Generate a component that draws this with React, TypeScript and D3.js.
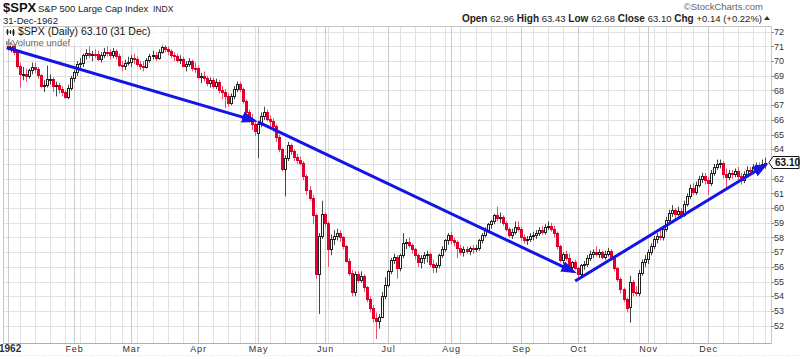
import { useEffect, useRef } from 'react';
import * as d3 from 'd3';

// open, high, low, close
type Bar = [number, number, number, number];

const jan: Bar[] = [
  [71.2, 71.4, 70.7, 70.96], [70.96, 71.4, 70.6, 71.13], [71.13, 71.2, 70.4, 70.64], [70.64, 70.8, 69.5, 69.66],
  [69.66, 69.9, 68.2, 69.12], [69.12, 69.6, 68.7, 69.15], [69.15, 69.5, 68.6, 68.96], [68.96, 69.5, 68.8, 69.37],
  [69.37, 69.9, 69.1, 69.61], [69.61, 69.9, 69.2, 69.47], [69.47, 69.6, 68.8, 69.07], [69.07, 69.1, 68.2, 68.32],
  [68.32, 68.7, 67.9, 68.39], [68.39, 69.7, 68.2, 68.75], [68.75, 69.1, 68.4, 68.81], [68.81, 68.9, 67.9, 68.29],
  [68.29, 68.6, 67.6, 68.35], [68.35, 68.5, 67.8, 68.13], [68.13, 68.3, 67.6, 67.9], [67.9, 68.0, 67.4, 67.55],
  [67.55, 68.4, 67.4, 68.17], [68.17, 69.0, 68.0, 68.84],
];
const feb: Bar[] = [
  [68.84, 69.4, 68.6, 69.26], [69.26, 70.0, 69.0, 69.81], [69.81, 70.2, 69.5, 69.88], [69.88, 70.5, 69.6, 70.42],
  [70.42, 70.8, 70.1, 70.58], [70.58, 71.0, 70.2, 70.42], [70.42, 70.7, 70.0, 70.48], [70.48, 70.8, 70.2, 70.46],
  [70.46, 70.7, 70.0, 70.14], [70.14, 70.6, 69.9, 70.42], [70.42, 70.9, 70.2, 70.64], [70.64, 71.0, 70.3, 70.59],
  [70.59, 70.8, 70.1, 70.41], [70.41, 70.9, 70.2, 70.66], [70.66, 70.8, 70.1, 70.34], [70.34, 70.5, 69.6, 69.76],
  [69.76, 70.0, 69.3, 69.64], [69.64, 70.1, 69.4, 69.89], [69.89, 70.3, 69.7, 69.96],
];
const mar: Bar[] = [
  [69.96, 70.4, 69.6, 70.2], [70.2, 70.5, 69.8, 70.16], [70.16, 70.3, 69.6, 69.78], [69.78, 70.0, 69.4, 69.69],
  [69.69, 70.0, 69.3, 69.6], [69.6, 70.2, 69.5, 70.07], [70.07, 70.5, 69.9, 70.38], [70.38, 70.7, 70.1, 70.4],
  [70.4, 70.6, 70.0, 70.21], [70.21, 70.8, 70.1, 70.6], [70.6, 71.2, 70.5, 70.94], [70.94, 71.1, 70.6, 70.85],
  [70.85, 71.0, 70.4, 70.66], [70.66, 70.8, 70.2, 70.41], [70.41, 70.6, 70.0, 70.32], [70.32, 70.5, 69.9, 70.1],
  [70.1, 70.4, 69.8, 70.12], [70.12, 70.3, 69.6, 69.7], [69.7, 70.0, 69.3, 69.82], [69.82, 70.2, 69.6, 70.01],
  [70.01, 70.1, 69.3, 69.56], [69.56, 69.9, 69.2, 69.55],
];
const apr: Bar[] = [
  [69.55, 69.7, 68.8, 68.91], [68.91, 69.2, 68.5, 69.02], [69.02, 69.3, 68.6, 68.84], [68.84, 69.0, 68.3, 68.49],
  [68.49, 68.9, 68.2, 68.72], [68.72, 68.9, 68.1, 68.31], [68.31, 68.8, 68.1, 68.56], [68.56, 68.7, 67.8, 68.04],
  [68.04, 68.3, 67.4, 67.9], [67.9, 68.1, 66.8, 67.62], [67.62, 67.8, 66.9, 67.18], [67.18, 67.8, 67.0, 67.6],
  [67.6, 68.3, 67.4, 68.1], [68.1, 68.6, 67.9, 68.45], [68.45, 68.6, 67.9, 68.1], [68.1, 68.2, 67.1, 67.31],
  [67.31, 67.4, 66.4, 66.55], [66.55, 66.7, 65.8, 66.02], [66.02, 66.4, 65.3, 65.7], [65.7, 66.0, 64.9, 65.24],
];
const may: Bar[] = [
  [65.1, 65.9, 63.4, 65.7], [65.7, 66.5, 65.5, 66.24], [66.24, 66.9, 66.0, 66.53], [66.53, 66.7, 65.9, 66.06],
  [66.06, 66.3, 65.5, 65.9], [65.9, 66.1, 65.2, 65.6], [65.6, 65.7, 64.5, 64.85], [64.85, 65.0, 63.8, 64.0],
  [64.0, 64.1, 62.5, 62.65], [62.65, 63.6, 60.8, 63.4], [63.4, 64.5, 63.2, 64.3], [64.3, 64.4, 63.6, 63.9],
  [63.9, 64.0, 63.2, 63.5], [63.5, 63.7, 63.0, 63.3], [63.3, 63.5, 62.9, 63.1], [63.1, 63.2, 61.9, 62.2],
  [62.2, 62.3, 60.9, 61.2], [61.2, 61.5, 60.5, 60.7], [60.7, 60.9, 58.9, 59.5], [59.5, 59.6, 55.2, 55.5],
  [55.5, 58.3, 52.8, 58.1], [58.1, 60.5, 57.9, 59.6],
];
const jun: Bar[] = [
  [59.6, 59.7, 58.7, 59.0], [59.0, 59.1, 56.0, 57.2], [57.2, 58.2, 56.8, 57.9], [57.9, 58.5, 57.5, 58.1],
  [58.1, 58.6, 57.8, 58.3], [58.3, 58.5, 57.7, 58.0], [58.0, 58.1, 57.2, 57.4], [57.4, 57.5, 56.3, 56.4],
  [56.4, 56.6, 55.4, 55.6], [55.6, 55.8, 54.0, 54.3], [54.3, 55.7, 54.0, 55.5], [55.5, 55.7, 54.9, 55.1],
  [55.1, 55.7, 54.9, 55.4], [55.4, 55.5, 54.3, 54.6], [54.6, 54.7, 53.6, 53.8], [53.8, 54.0, 52.9, 53.2],
  [53.2, 53.4, 52.2, 52.5], [52.5, 52.9, 51.1, 52.3], [52.3, 52.8, 51.8, 52.6], [52.6, 54.3, 52.5, 54.0],
  [54.0, 55.3, 53.8, 54.75],
];
const jul: Bar[] = [
  [54.75, 55.8, 54.6, 55.7], [55.7, 56.6, 55.5, 56.5], [56.5, 56.9, 56.2, 56.7], [56.7, 56.8, 55.2, 55.9],
  [55.9, 56.9, 55.7, 56.8], [56.8, 58.3, 56.6, 57.6], [57.6, 57.9, 57.2, 57.7], [57.7, 58.0, 57.3, 57.5],
  [57.5, 57.6, 56.9, 57.2], [57.2, 57.3, 56.5, 56.8], [56.8, 56.9, 56.0, 56.3], [56.3, 56.8, 55.9, 56.6],
  [56.6, 57.0, 56.2, 56.8], [56.8, 57.1, 56.3, 56.9], [56.9, 57.0, 56.0, 56.2], [56.2, 56.5, 55.6, 56.0],
  [56.0, 56.3, 55.6, 56.1], [56.1, 56.9, 55.9, 56.8], [56.8, 57.4, 56.6, 57.2], [57.2, 57.9, 57.0, 57.8],
  [57.8, 58.3, 57.5, 58.2],
];
const aug: Bar[] = [
  [58.2, 58.4, 57.5, 57.8], [57.8, 58.0, 57.4, 57.7], [57.7, 57.8, 56.6, 57.3], [57.3, 57.5, 56.8, 57.0],
  [57.0, 57.4, 56.7, 57.2], [57.2, 57.4, 56.9, 57.1], [57.1, 57.4, 56.8, 57.3], [57.3, 57.5, 56.9, 57.2],
  [57.2, 57.5, 57.0, 57.3], [57.3, 57.9, 57.1, 57.8], [57.8, 58.3, 57.6, 58.2], [58.2, 58.7, 58.0, 58.5],
  [58.5, 59.0, 58.3, 58.9], [58.9, 59.2, 58.6, 59.1], [59.1, 59.6, 58.9, 59.5], [59.5, 60.1, 59.1, 59.3],
  [59.3, 59.7, 59.0, 59.4], [59.4, 59.5, 58.8, 59.0], [59.0, 59.1, 58.4, 58.6], [58.6, 58.7, 58.0, 58.2],
  [58.2, 58.6, 57.9, 58.4], [58.4, 59.1, 58.2, 58.7], [58.7, 59.1, 58.4, 58.6],
];
const sep: Bar[] = [
  [58.6, 58.7, 57.8, 58.0], [58.0, 58.2, 57.6, 57.8], [57.8, 58.1, 57.5, 57.9], [57.9, 58.3, 57.7, 58.1],
  [58.1, 58.4, 57.8, 58.2], [58.2, 58.5, 57.9, 58.3], [58.3, 58.7, 58.1, 58.5], [58.5, 58.8, 58.2, 58.4],
  [58.4, 58.9, 58.2, 58.7], [58.7, 59.1, 58.5, 58.8], [58.8, 59.0, 58.4, 58.6], [58.6, 58.8, 58.0, 58.3],
  [58.3, 58.4, 57.2, 57.4], [57.4, 57.5, 56.3, 56.5], [56.5, 57.0, 56.2, 56.9], [56.9, 57.1, 56.4, 56.6],
  [56.6, 56.9, 55.8, 56.0], [56.0, 56.4, 55.6, 56.3], [56.3, 56.5, 55.8, 55.9],
];
const oct: Bar[] = [
  [55.9, 56.0, 55.2, 55.5], [55.5, 56.2, 55.3, 56.1], [56.1, 56.4, 55.8, 56.2], [56.2, 56.8, 56.0, 56.6],
  [56.6, 57.1, 56.4, 56.9], [56.9, 57.2, 56.6, 57.0], [57.0, 57.4, 56.7, 56.9], [56.9, 57.2, 56.6, 57.0],
  [57.0, 57.1, 56.5, 56.7], [56.7, 57.1, 56.5, 56.9], [56.9, 57.3, 56.7, 57.1], [57.1, 57.2, 56.4, 56.6],
  [56.6, 56.7, 55.7, 55.9], [55.9, 56.0, 55.0, 55.2], [55.2, 55.3, 54.2, 54.5], [54.5, 54.6, 53.6, 53.8],
  [53.8, 53.9, 52.9, 53.2], [53.3, 55.4, 52.2, 55.0], [55.0, 55.1, 54.0, 54.3], [54.3, 54.7, 54.0, 54.2],
  [54.2, 55.8, 54.0, 55.6], [55.6, 56.5, 55.4, 56.3], [56.3, 56.8, 56.0, 56.52],
];
const nov: Bar[] = [
  [56.52, 57.2, 56.2, 57.0], [57.0, 57.6, 56.8, 57.4], [57.4, 58.1, 57.2, 57.9], [57.9, 58.3, 57.6, 58.1],
  [58.1, 58.6, 57.8, 58.0], [58.0, 58.8, 57.8, 58.6], [58.6, 59.4, 58.4, 59.2], [59.2, 59.9, 59.0, 59.7],
  [59.7, 60.2, 59.4, 59.9], [59.9, 60.0, 59.3, 59.6], [59.6, 60.1, 59.4, 59.8], [59.8, 60.0, 59.3, 59.5],
  [59.5, 60.5, 59.4, 60.3], [60.3, 61.0, 60.1, 60.8], [60.8, 61.6, 60.6, 61.4], [61.4, 61.7, 60.9, 61.1],
  [61.1, 61.8, 60.9, 61.6], [61.6, 62.2, 61.4, 62.0], [62.0, 62.4, 61.7, 62.2], [62.2, 62.4, 61.6, 61.9],
];
const dec: Bar[] = [
  [61.9, 62.1, 60.9, 61.7], [61.7, 62.6, 61.5, 62.4], [62.4, 63.0, 62.2, 62.8], [62.8, 63.3, 62.6, 63.0],
  [63.0, 63.3, 62.7, 63.1], [63.1, 63.2, 62.0, 62.3], [62.3, 62.7, 61.4, 62.1], [62.1, 62.6, 61.9, 62.4],
  [62.4, 62.6, 62.0, 62.3], [62.3, 62.7, 62.1, 62.5], [62.5, 62.8, 61.9, 62.2], [62.2, 62.4, 61.6, 61.9],
  [61.9, 62.5, 61.7, 62.3], [62.3, 62.85, 62.1, 62.6], [62.6, 62.8, 62.3, 62.5], [62.5, 63.0, 62.3, 62.8],
  [62.8, 63.1, 62.5, 62.9], [62.9, 63.1, 62.6, 62.8], [62.8, 63.3, 62.6, 63.0], [62.96, 63.43, 62.68, 63.1],
];

const holidays = ['1962-01-01', '1962-02-22', '1962-04-20', '1962-05-30', '1962-07-04', '1962-09-03', '1962-11-06', '1962-11-22', '1962-12-25'];
const monthLabels = ['1962', 'Feb', 'Mar', 'Apr', 'May', 'Jun', 'Jul', 'Aug', 'Sep', 'Oct', 'Nov', 'Dec'];
const priceTicks = [52, 53, 54, 55, 56, 57, 58, 59, 60, 61, 62, 63, 64, 65, 66, 67, 68, 69, 70, 71, 72];
const quoteLabels = ['Open', 'High', 'Low', 'Close', 'Chg'];
const quoteValues = ['62.96', '63.43', '62.68', '63.10', '+0.14 (+0.22%)'];
const lastClose = '63.10';
// hand-drawn trend arrows: [bar index, price] -> [bar index, price]
const trendLines: [number, number, number, number][] = [
  [-0.3, 70.91, 82.9, 65.88],
  [82.9, 65.86, 188.6, 55.56],
  [188.0, 55.04, 252.0, 63.05],
];

const FONT = '"Liberation Sans", Arial, sans-serif';

export default function App() {
  const svgRef = useRef<SVGSVGElement>(null);

  useEffect(() => {
    if (!svgRef.current) return;
    const svg = d3.select(svgRef.current);
    svg.selectAll('*').remove();

    const bars = [...jan, ...feb, ...mar, ...apr, ...may, ...jun, ...jul, ...aug, ...sep, ...oct, ...nov, ...dec];
    const fmt = d3.timeFormat('%Y-%m-%d');
    const days = d3.timeDay
      .range(new Date(1962, 0, 1), new Date(1963, 0, 1))
      .filter((d) => d.getDay() !== 0 && d.getDay() !== 6 && !holidays.includes(fmt(d)));

    const left = 3.5, right = 771.5, top = 26.5, bottom = 343.5;
    const x = d3.scaleLinear().domain([0, bars.length - 1]).range([7.6, 765.4]);
    const y = d3.scaleLinear().domain([52, 72]).range([325.7, 31.7]);
    const px = (i: number) => Math.round(x(i));
    const py = (p: number) => Math.round(y(p)) + 0.5;

    svg.append('rect').attr('width', 800).attr('height', 359).attr('fill', '#fff');

    // header
    const head = svg.append('g').attr('font-family', FONT);
    head.append('text').attr('x', 3).attr('y', 12).attr('font-size', 13).attr('font-weight', 'bold').attr('fill', '#111').text('$SPX');
    head.append('text').attr('x', 38).attr('y', 12).attr('font-size', 9.5).attr('fill', '#222').text('S&P 500 Large Cap Index');
    head.append('text').attr('x', 153).attr('y', 12).attr('font-size', 8.5).attr('fill', '#222').text('INDX');
    head.append('text').attr('x', 3).attr('y', 24).attr('font-size', 9.5).attr('fill', '#222').text('31-Dec-1962');
    head.append('text').attr('x', 763).attr('y', 9.5).attr('font-size', 9.5).attr('fill', '#666').attr('text-anchor', 'end').text('©StockCharts.com');
    const q = head.append('text').attr('x', 762).attr('y', 21.5).attr('font-size', 9.5).attr('fill', '#222').attr('text-anchor', 'end');
    quoteLabels.forEach((lab, k) => {
      q.append('tspan').attr('font-weight', 'bold').attr('font-size', 10).text((k ? '  ' : '') + lab + ' ');
      q.append('tspan').text(quoteValues[k]);
    });
    head.append('path').attr('d', 'M764,20 L770,20 L767,16 Z').attr('fill', '#333');

    // grid
    const grid = svg.append('g');
    priceTicks.forEach((p) => {
      grid.append('line').attr('x1', left).attr('x2', right).attr('y1', py(p)).attr('y2', py(p)).attr('stroke', '#e2e2e2');
    });
    const weekStarts: number[] = [];
    const monthStarts: number[] = [];
    days.forEach((d, i) => {
      if (i === 0 || +d3.timeMonday.floor(d) !== +d3.timeMonday.floor(days[i - 1])) weekStarts.push(i);
      if (i === 0 || d.getMonth() !== days[i - 1].getMonth()) monthStarts.push(i);
    });
    weekStarts.forEach((i) => {
      grid.append('line').attr('x1', px(i) + 0.5).attr('x2', px(i) + 0.5).attr('y1', top).attr('y2', bottom).attr('stroke', '#e2e2e2');
    });
    monthStarts.forEach((i) => {
      grid.append('line').attr('x1', px(i) + 0.5).attr('x2', px(i) + 0.5).attr('y1', top).attr('y2', bottom).attr('stroke', '#cbcbcb');
    });
    grid.append('rect').attr('x', left).attr('y', top).attr('width', right - left).attr('height', bottom - top)
      .attr('fill', 'none').attr('stroke', '#c8c8c8');
    grid.append('line').attr('x1', left).attr('x2', right).attr('y1', bottom).attr('y2', bottom)
      .attr('stroke', '#999').attr('stroke-dasharray', '1,1');
    grid.append('line').attr('x1', 0).attr('x2', 800).attr('y1', 355.5).attr('y2', 355.5)
      .attr('stroke', '#ddd').attr('stroke-dasharray', '1,2');

    // month labels
    const ax = svg.append('g').attr('font-family', FONT).attr('font-size', 9).attr('fill', '#333');
    monthStarts.forEach((i, k) => {
      if (k === 0) {
        ax.append('text').attr('x', -1).attr('y', 352).attr('font-weight', 'bold').attr('font-size', 10).text(monthLabels[k]);
      } else {
        ax.append('text').attr('x', px(i) + 0.5).attr('y', 352).attr('text-anchor', 'middle').attr('letter-spacing', 0.8).text(monthLabels[k]);
      }
    });

    // price axis (the last-price tag hides the label it sits on)
    const ty = y(bars[bars.length - 1][3]);
    priceTicks.forEach((p) => {
      ax.append('line').attr('x1', right).attr('x2', right + 2.5).attr('y1', py(p)).attr('y2', py(p)).attr('stroke', '#888');
      if (Math.abs(y(p) - ty) > 8) ax.append('text').attr('x', 774).attr('y', y(p)).attr('dy', '0.35em').text(p);
    });

    // candles
    const cg = svg.append('g');
    bars.forEach(([o, h, l, c], i) => {
      const prev = i ? bars[i - 1][3] : o;
      const col = c < prev ? '#e0002b' : '#222';
      const cx = px(i);
      cg.append('line').attr('x1', cx + 0.5).attr('x2', cx + 0.5).attr('y1', y(h)).attr('y2', y(l))
        .attr('stroke', c < prev ? '#e8506c' : '#444');
      const y0 = Math.round(y(Math.max(o, c))) + 0.5;
      const y1 = Math.max(y0 + 1, Math.round(y(Math.min(o, c))) + 0.5);
      cg.append('rect').attr('x', cx - 0.5).attr('y', y0).attr('width', 2).attr('height', y1 - y0)
        .attr('fill', c > o ? '#fff' : col).attr('stroke', col);
    });

    // trend arrows
    const defs = svg.append('defs');
    defs.append('marker').attr('id', 'ah').attr('markerUnits', 'userSpaceOnUse')
      .attr('markerWidth', 17).attr('markerHeight', 12).attr('refX', 16).attr('refY', 6).attr('orient', 'auto')
      .append('path').attr('d', 'M0,0.5 L16,6 L0,11.5 Z').attr('fill', '#1414e6');
    trendLines.forEach(([i1, p1, i2, p2]) => {
      const x1 = x(i1), y1 = y(p1), x2 = x(i2), y2 = y(p2);
      const len = Math.hypot(x2 - x1, y2 - y1);
      const ex = x2 - ((x2 - x1) / len) * 8, ey = y2 - ((y2 - y1) / len) * 8;
      svg.append('line').attr('x1', x1).attr('y1', y1).attr('x2', ex).attr('y2', ey)
        .attr('stroke', '#1414e6').attr('stroke-width', 3);
      svg.append('path').attr('d', `M${ex},${ey} L${x2},${y2}`).attr('stroke', 'none').attr('fill', 'none')
        .attr('marker-end', 'url(#ah)');
    });

    // legend in plot
    const lg = svg.append('g').attr('font-family', FONT);
    lg.append('rect').attr('x', 3.5).attr('y', 27).attr('width', 160).attr('height', 19).attr('fill', '#fff').attr('opacity', 0.7);
    [[7, 29, 35], [10, 30, 34], [13, 29, 36]].forEach(([lx, a, b]) => {
      lg.append('line').attr('x1', lx + 0.5).attr('x2', lx + 0.5).attr('y1', a).attr('y2', b).attr('stroke', '#222');
      lg.append('rect').attr('x', lx - 0.5).attr('y', a + 1.5).attr('width', 2).attr('height', b - a - 3).attr('fill', '#222');
    });
    lg.append('text').attr('x', 18).attr('y', 34.5).attr('font-size', 10.5).attr('fill', '#111').text('$SPX (Daily) 63.10 (31 Dec)');
    [[6, 41], [8, 39], [10, 42]].forEach(([lx, t]) => {
      lg.append('rect').attr('x', lx).attr('y', t).attr('width', 1.5).attr('height', 45 - t).attr('fill', '#888');
    });
    lg.append('text').attr('x', 12).attr('y', 46).attr('font-size', 9.5).attr('fill', '#666').text('Volume undef');

    // last price tag
    svg.append('path')
      .attr('d', `M769,${ty} L773,${ty - 6} L799,${ty - 6} L799,${ty + 6} L773,${ty + 6} Z`)
      .attr('fill', '#fff').attr('stroke', '#111');
    svg.append('text').attr('x', 775).attr('y', ty).attr('dy', '0.36em').attr('font-family', FONT)
      .attr('font-size', 10).attr('font-weight', 'bold').attr('fill', '#111').text(lastClose);
  }, []);

  return <svg ref={svgRef} width={800} height={359} style={{ position: 'absolute', left: 0, top: 0 }} />;
}
